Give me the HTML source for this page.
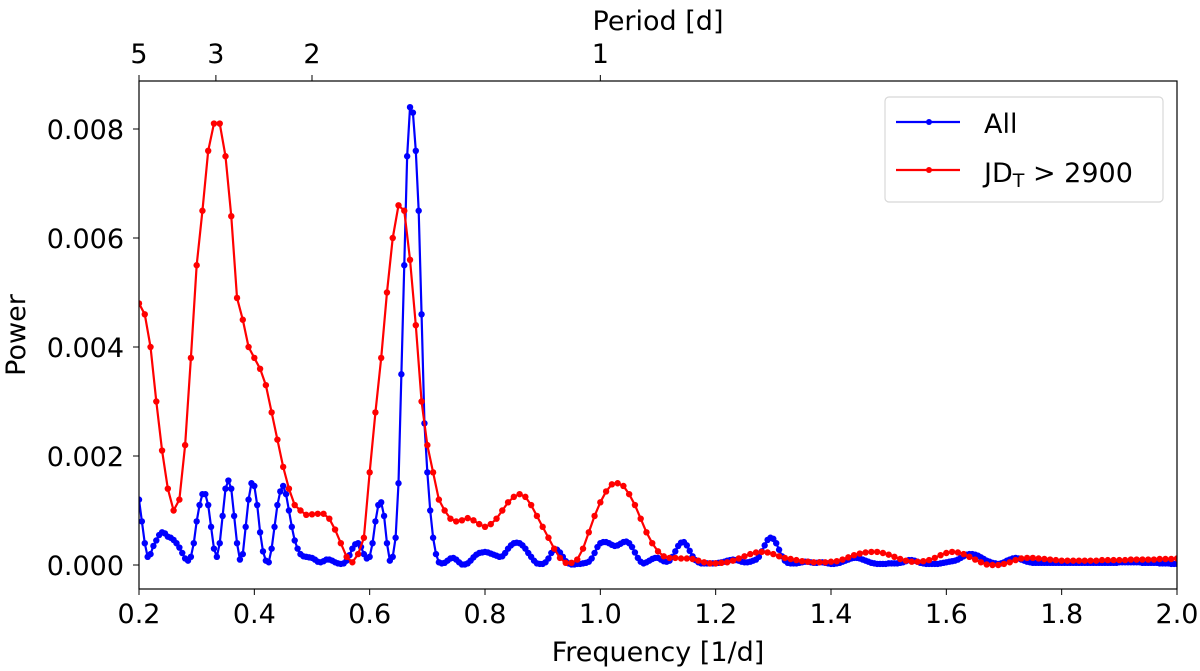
<!DOCTYPE html>
<html><head><meta charset="utf-8"><style>
html,body{margin:0;padding:0;background:#fff;}
svg{display:block;font-family:"DejaVu Sans","Liberation Sans",sans-serif;}
</style></head><body>
<svg id="chart" width="1200" height="671" viewBox="0 0 1200 671" xmlns="http://www.w3.org/2000/svg"></svg>
<script>
const blueStart = 0.20, blueStep = 0.005;
const blueValues = [
12,8,4,1.5,2,3.5,4.5,5.5,6,5.8,5.2,5,4.6,4,3.2,2.2,1.2,0.8,1.5,4,
8,11,13,13,11,7,3,1.5,4,9,14,15.5,14,9,4,1,2,7,12,15,
14.5,11,6,2.5,0.8,0.5,3,7,11,13.5,14.5,13,10,7,4.5,3,2,1.6,1.5,1.4,
1.3,1,0.6,0.5,0.7,1,1,0.8,0.5,0.3,0.2,0.3,0.8,1.8,3,3.8,4,3.3,2,1.2,
1.5,4,8,11,11.5,9,4,0.8,1.5,5,15,35,55,75,84,83,76,65,46,26,
17,10,5,2,0.5,0.3,0.4,0.8,1.2,1.3,1,0.5,0.1,0.1,0.3,0.8,1.4,1.9,2.2,2.3,
2.4,2.3,2.1,1.9,1.7,1.5,1.6,2.2,3,3.6,4,4.1,4,3.6,3,2.2,1.5,0.8,0.3,0.2,
0.2,0.5,1.2,2.2,2.8,2.8,2.3,1.5,0.7,0.3,0.1,0.1,0.2,0.2,0.3,0.4,0.6,1.2,2.2,3.3,
4,4.2,4.2,4,3.7,3.5,3.6,3.9,4.2,4.3,4,3.3,2.3,1.3,0.6,0.3,0.5,0.8,1.1,1.3,
1.3,1,0.7,0.6,0.8,1.5,2.5,3.5,4.1,4.2,3.6,2.6,1.6,0.9,0.5,0.3,0.3,0.3,0.3,0.3,
0.3,0.4,0.5,0.6,0.8,0.9,1,0.9,0.8,0.6,0.5,0.5,0.6,0.8,1,1.5,2.5,3.6,4.6,5,
4.8,4,2.8,1.6,0.8,0.4,0.3,0.3,0.3,0.4,0.5,0.6,0.6,0.5,0.4,0.4,0.5,0.5,0.4,0.3,
0.2,0.2,0.3,0.4,0.6,0.8,1,1.2,1.3,1.3,1.2,1,0.8,0.6,0.4,0.3,0.2,0.2,0.2,0.2,
0.3,0.3,0.3,0.3,0.4,0.5,0.7,0.9,0.9,0.8,0.6,0.4,0.3,0.2,0.2,0.2,0.2,0.2,0.3,0.4,
0.5,0.6,0.7,0.8,1,1.3,1.6,1.9,2,2,1.9,1.7,1.4,1.1,0.8,0.6,0.4,0.3,0.2,0.3,
0.5,0.8,1,1.2,1.3,1.2,1,0.8,0.6,0.5,0.4,0.4,0.4,0.4,0.4,0.4,0.4,0.4,0.4,0.4,
0.4,0.4,0.4,0.4,0.4,0.4,0.4,0.4,0.4,0.4,0.4,0.4,0.4,0.4,0.4,0.4,0.4,0.4,0.4,0.4,
0.5,0.5,0.5,0.5,0.5,0.5,0.5,0.5,0.4,0.4,0.4,0.4,0.4,0.4,0.3,0.3,0.3,0.3,0.2,0.2,
0.2];
const redStart = 0.20, redStep = 0.01;
const redValues = [48,46,40,30,21,14,10,12,22,38,55,65,76,81,81,75,64,49,45,40,38,36,33,28,23,18,14,11,10,9.2,9.3,9.4,9.4,8.5,6.5,4,1.5,0.5,2,5,17,28,38,50,60,66,65,56,44,30,22,17,12,10,8.5,8,8.2,8.6,8.2,7.5,7,7.5,8.5,10,11.5,12.5,13,12.5,11,9,7,5,3,1.3,0.4,0.4,1,3,6,9,11.5,13.5,14.8,15,14.5,13,11,8.5,6,4,2.5,1.6,1.3,1.3,1.2,1.2,1.1,0.8,0.5,0.3,0.3,0.4,0.5,0.8,1.2,1.6,2,2.3,2.4,2.3,2,1.6,1.3,1.1,0.9,0.7,0.6,0.5,0.5,0.5,0.6,0.7,1,1.4,1.8,2.1,2.3,2.4,2.4,2.2,1.9,1.5,1.1,0.8,0.6,0.6,0.7,0.9,1.3,1.8,2.2,2.4,2.3,2,1.5,1,0.5,0.1,0,0,0.2,0.5,0.9,1.2,1.3,1.3,1.2,1.1,1,0.9,0.8,0.8,0.8,0.8,0.8,0.8,0.8,0.9,0.9,0.9,0.9,0.9,1,1,1,1,1,1.1,1.1,1.1,1.2,1.2,1.2,1.3];
const xTicks = [0.2,0.4,0.6,0.8,1.0,1.2,1.4,1.6,1.8,2.0];
const xTickLabels = ["0.2","0.4","0.6","0.8","1.0","1.2","1.4","1.6","1.8","2.0"];
const yTicks = [0,0.002,0.004,0.006,0.008];
const yTickLabels = ["0.000","0.002","0.004","0.006","0.008"];
const periodTicks = [5,3,2,1];

const L=139,R=1177,T=81,B=589;
const xs=f=>L+(f-0.2)/(1.8)*(R-L);
const ys=p=>565-p/0.008*436;
const svg=document.getElementById('chart');
const NS='http://www.w3.org/2000/svg';
function mk(tag,attrs,parent){const e=document.createElementNS(NS,tag);for(const k in attrs)e.setAttribute(k,attrs[k]);(parent||svg).appendChild(e);return e;}

const plot=mk('g',{});


const clip=mk('clipPath',{id:'clip'});mk('rect',{x:L,y:T,width:R-L,height:B-T},clip);

function series(vals,start,step,color,name,r){
  const g=mk('g',{'clip-path':'url(#clip)'},plot);
  
  
  const pts=vals.map((v,i)=>[xs(start+i*step),ys(v*1e-4)]);
  const pl=mk('polyline',{points:pts.map(p=>p.join(',')).join(' '),fill:'none',stroke:color,'stroke-width':2.2,'stroke-linejoin':'round'},g);
  
  
  pts.forEach(p=>{const c=mk('circle',{cx:p[0],cy:p[1],r:r,fill:color},g);
    
    });
}
series(blueValues,blueStart,blueStep,'#0000ff','series-all',3.2);
series(redValues,redStart,redStep,'#ff0000','series-jd-2900',3.2);

const frame=mk('rect',{x:L,y:T,width:R-L,height:B-T,fill:'none',stroke:'#000','stroke-width':1.2});



xTicks.forEach((t,i)=>{const x=xs(t);mk('line',{x1:x,x2:x,y1:B,y2:B+6,stroke:'#000'});
  const tx=mk('text',{x:x,y:B+34,'font-size':27,'text-anchor':'middle'});tx.textContent=xTickLabels[i];
  
  });
yTicks.forEach((t,i)=>{const y=ys(t);mk('line',{x1:L-6,x2:L,y1:y,y2:y,stroke:'#000'});
  const tx=mk('text',{x:L-15,y:y+10,'font-size':27,'text-anchor':'end'});tx.textContent=yTickLabels[i];
  
  });
periodTicks.forEach(p=>{const x=xs(1/p);mk('line',{x1:x,x2:x,y1:T-6,y2:T,stroke:'#000'});
  const tx=mk('text',{x:x,y:T-18,'font-size':27,'text-anchor':'middle'});tx.textContent=String(p);
  
  });
</script>
<svg style="position:absolute;left:0;top:0" width="1200" height="671" xmlns="http://www.w3.org/2000/svg" font-family="DejaVu Sans, Liberation Sans, sans-serif">
<text x="658" y="661" font-size="27" text-anchor="middle">Frequency [1/d]</text>
<text x="658" y="30" font-size="27" text-anchor="middle">Period [d]</text>
<text transform="translate(25,335) rotate(-90)" font-size="27" text-anchor="middle">Power</text>
<g>
<rect x="885" y="97" width="278" height="105" rx="4" fill="#fff" stroke="#d8d8d8" stroke-width="1.2"/>
<g>
<line x1="896" x2="960" y1="122" y2="122" stroke="#0000ff" stroke-width="2.2"/><circle cx="929" cy="122" r="3" fill="#0000ff"/>
<text x="984" y="133" font-size="27">All</text></g>
<g>
<line x1="896" x2="960" y1="170" y2="170" stroke="#ff0000" stroke-width="2.2"/><circle cx="929" cy="170" r="3" fill="#ff0000"/>
<text x="984" y="182" font-size="27">JD<tspan font-size="19" dy="5">T</tspan><tspan dy="-5"> &gt; 2900</tspan></text></g>
</g>
</svg>
</body></html>
